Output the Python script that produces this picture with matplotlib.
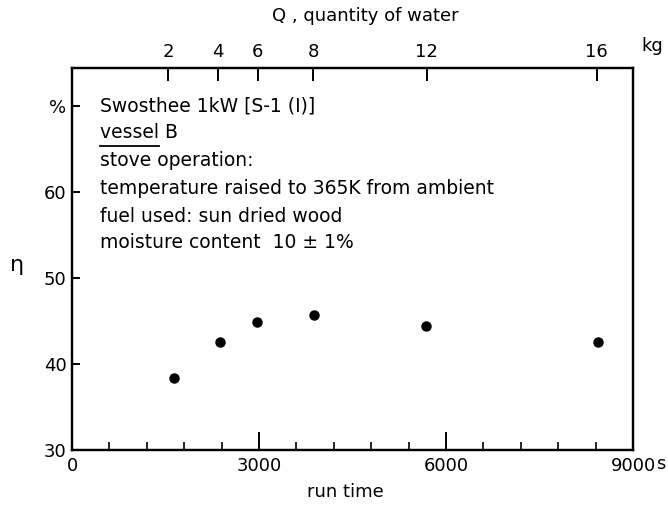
import matplotlib
matplotlib.use("Agg")
import matplotlib.pyplot as plt
from matplotlib.ticker import FixedLocator, MultipleLocator

# ---- data ----
run_time = [1640, 2370, 2970, 3880, 5680, 8440]        # s
efficiency = [38.4, 42.5, 44.9, 45.7, 44.4, 42.5]      # %
q_ticks = [2, 4, 6, 8, 12, 16]                          # kg
q_tick_time = [1540, 2340, 2980, 3870, 5690, 8420]     # s position of Q ticks
x_major = [0, 3000, 6000, 9000]
y_ticks = [30, 40, 50, 60, 70]
y_labels = ["30", "40", "50", "60", "%"]
note_lines = ["Swosthee 1kW [S-1 (I)]", "vessel B", "stove operation:",
              "temperature raised to 365K from ambient",
              "fuel used: sun dried wood", "moisture content  10 \u00b1 1%"]

FS = 13
FN = 13.5
plt.rcParams["font.family"] = ["DejaVu Sans"]

fig = plt.figure(figsize=(6.68, 5.08), dpi=100)
W, H = 668, 508
ax = fig.add_axes([72 / W, 1 - 450 / H, (633 - 72) / W, (450 - 68) / H])

ax.plot(run_time, efficiency, "o", color="black", markersize=6.5)

ax.set_xlim(0, 9000)
ax.set_ylim(30, 74.4)
ax.xaxis.set_major_locator(FixedLocator(x_major))
ax.xaxis.set_minor_locator(MultipleLocator(600))
ax.set_xticklabels([str(v) for v in x_major])
ax.yaxis.set_major_locator(FixedLocator(y_ticks))
ax.set_yticklabels(y_labels)

for s in ax.spines.values():
    s.set_linewidth(1.6)
ax.tick_params(axis="x", which="major", direction="in", length=13, width=1.4,
               labelsize=FS, pad=5, top=False)
ax.tick_params(axis="x", which="minor", direction="in", length=6, width=1.2, top=False)
ax.tick_params(axis="y", which="major", direction="in", length=5.5, width=1.4,
               labelsize=FS, pad=4, right=False)

ax2 = ax.twiny()
ax2.set_xlim(ax.get_xlim())
ax2.xaxis.set_major_locator(FixedLocator(q_tick_time))
ax2.set_xticklabels([str(q) for q in q_ticks])
ax2.tick_params(axis="x", direction="in", length=9, width=1.4, labelsize=FS, pad=5)
for s in ax2.spines.values():
    s.set_linewidth(1.6)

# axis titles and units
fig.text(365 / W, 1 - 16 / H, "Q , quantity of water", ha="center", va="center", fontsize=FS)
fig.text(345 / W, 1 - 492 / H, "run time", ha="center", va="center", fontsize=FS)
fig.text(652 / W, 1 - 46 / H, "kg", ha="center", va="center", fontsize=FS)
fig.text(661 / W, 1 - 464 / H, "s", ha="center", va="center", fontsize=FS)
fig.text(17 / W, 1 - 265 / H, "\u03b7", ha="center", va="center", fontsize=FS + 3)

# annotation block
ys = [106, 133, 161, 189, 216, 243]
for line, y in zip(note_lines, ys):
    fig.text(100 / W, 1 - y / H, line, ha="left", va="center", fontsize=FN)

fig.canvas.draw()
r = fig.canvas.get_renderer()
probe = fig.text(100 / W, 1 - ys[1] / H, "vessel", ha="left", va="center", fontsize=FN, alpha=0)
bb = probe.get_window_extent(renderer=r)
uy = bb.y0 - 3
fig.add_artist(plt.Line2D([bb.x0 / W, bb.x1 / W], [uy / H, uy / H], color="black", lw=1.3))

fig.savefig("out.png", dpi=100, facecolor="white")
